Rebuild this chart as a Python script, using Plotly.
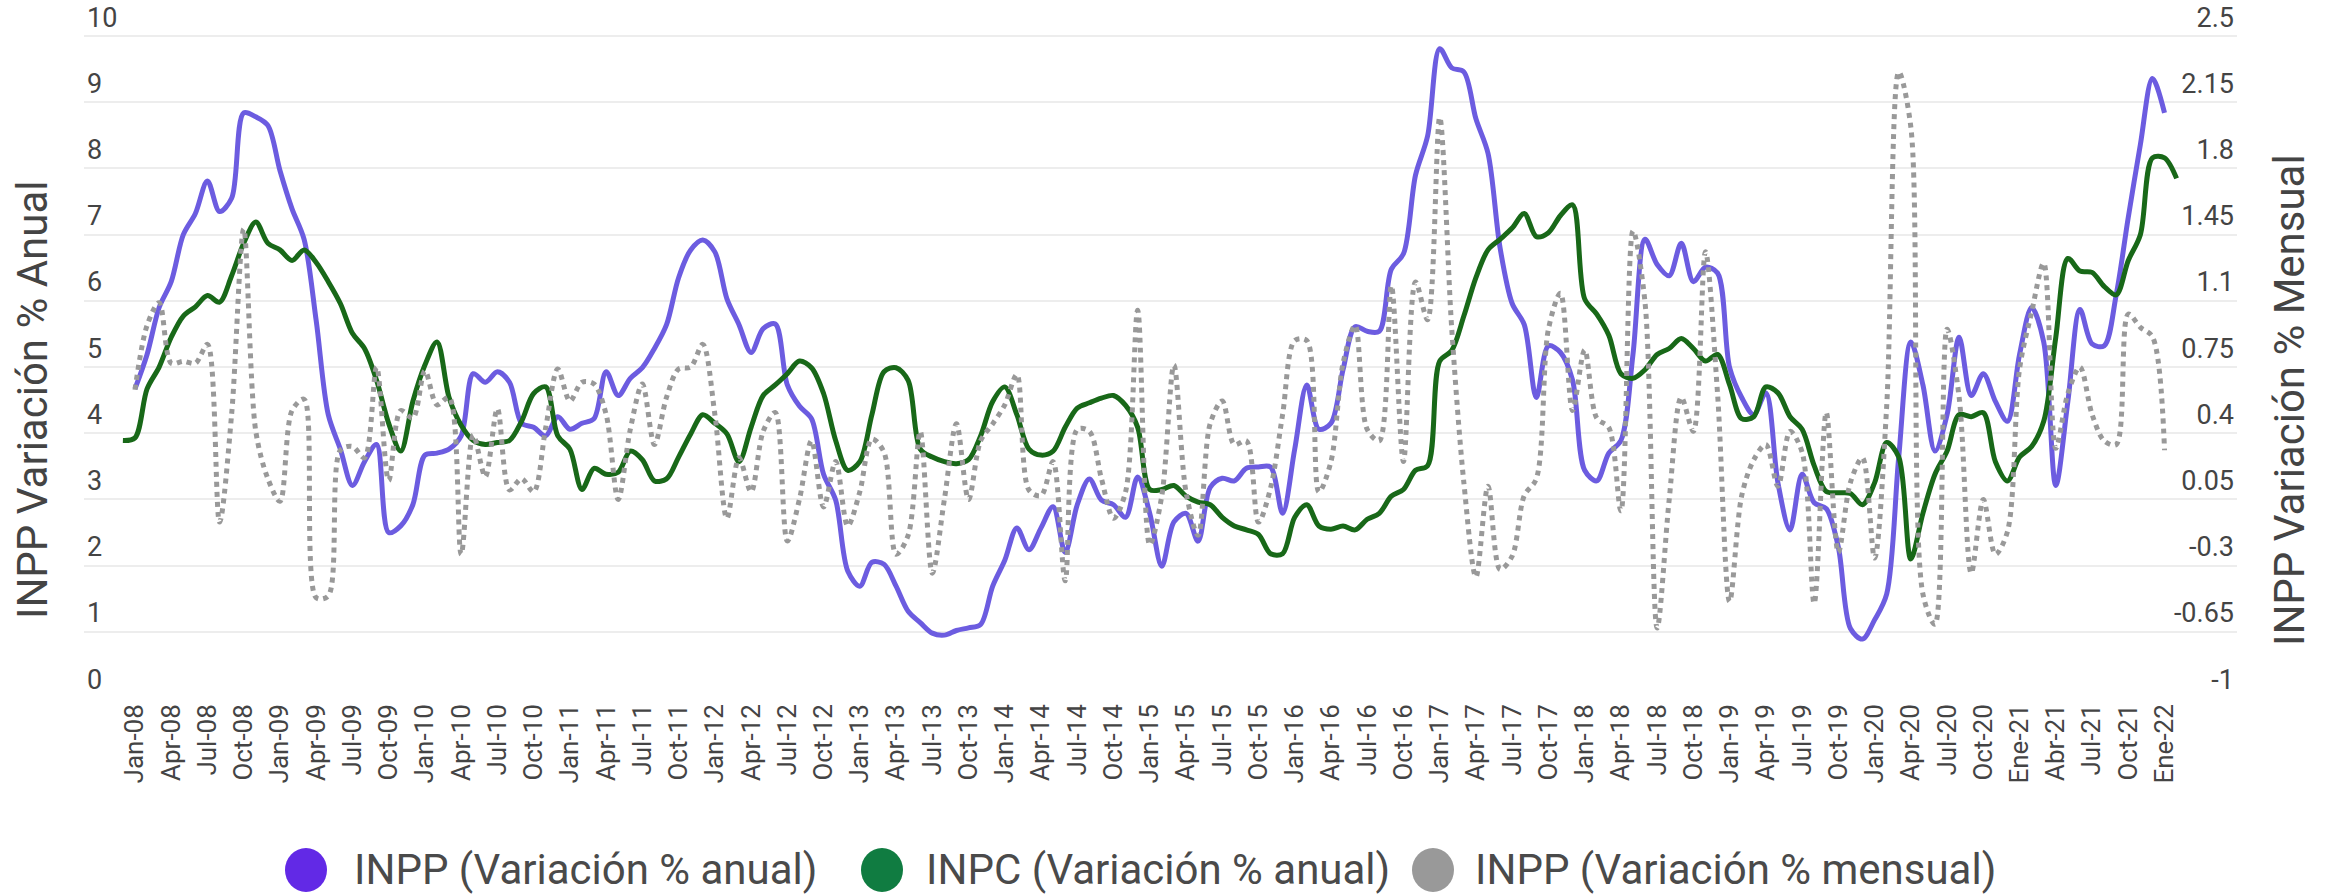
import plotly.graph_objects as go

# ---------------- data ----------------
# month index 0 = Jan-08
inpp_anual = [
    4.67, 5.19, 5.9, 6.29, 7.0, 7.32, 7.81, 7.35, 7.55, 8.84, 8.78, 8.65,
    7.97, 7.39, 6.93, 5.7, 4.28, 3.76, 3.21, 3.57, 3.83, 2.5, 2.6, 2.92,
    3.67, 3.7, 3.76, 3.96, 4.9, 4.77, 4.93, 4.77, 4.15, 4.09, 3.96, 4.25,
    4.06, 4.15, 4.22, 4.93, 4.57, 4.83, 4.99, 5.28, 5.64, 6.35, 6.77, 6.92,
    6.74, 6.03, 5.64, 5.22, 5.58, 5.65, 4.73, 4.41, 4.22, 3.38, 2.99, 1.92,
    1.69, 2.05, 2.02, 1.69, 1.31, 1.14, 0.98, 0.95, 1.02, 1.06, 1.11, 1.69,
    2.08, 2.57, 2.24, 2.57, 2.89, 2.2, 2.92, 3.31, 2.99, 2.92, 2.73, 3.34,
    2.79, 1.99, 2.66, 2.79, 2.37, 3.18, 3.32, 3.28, 3.47, 3.49, 3.49, 2.79,
    3.76, 4.73, 4.06, 4.15, 4.96, 5.61, 5.54, 5.54, 6.48, 6.71, 7.9, 8.49,
    9.81, 9.52, 9.46, 8.75, 8.23, 6.8, 5.96, 5.64, 4.54, 5.32, 5.22, 4.8,
    3.44, 3.28, 3.7, 3.89, 5.19, 6.93, 6.55, 6.38, 6.87, 6.29, 6.51, 6.42,
    4.99, 4.54, 4.28, 4.61, 3.25, 2.54, 3.38, 2.95, 2.86, 2.28, 1.05, 0.89,
    1.18, 1.57, 3.64, 5.38, 4.73, 3.73, 4.28, 5.45, 4.57, 4.9, 4.48, 4.18,
    5.19, 5.9, 5.38, 3.21, 4.48, 5.87, 5.35, 5.32, 6.09, 7.26, 8.36, 9.36,
    8.84,
]

# month index -1 = Dec-07 ... 169 = Feb-22
inpc_anual = [
    3.89,
    3.93, 4.67, 5.0, 5.45, 5.77, 5.91, 6.08, 5.98, 6.38, 6.87, 7.19, 6.87,
    6.77, 6.61, 6.77, 6.58, 6.29, 5.96, 5.51, 5.28, 4.8, 4.15, 3.73, 4.48,
    5.03, 5.38, 4.54, 4.12, 3.89, 3.83, 3.86, 3.89, 4.18, 4.6, 4.7, 3.96,
    3.76, 3.15, 3.47, 3.38, 3.41, 3.73, 3.6, 3.28, 3.31, 3.64, 3.99, 4.28,
    4.15, 3.99, 3.57, 4.09, 4.57, 4.73, 4.9, 5.09, 4.99, 4.6, 3.89, 3.44,
    3.57, 4.28, 4.93, 4.99, 4.8, 3.76, 3.64, 3.57, 3.54, 3.6, 3.96, 4.48,
    4.7, 4.28, 3.76, 3.67, 3.73, 4.09, 4.38, 4.46, 4.53, 4.57, 4.42, 4.09,
    3.15, 3.15, 3.21, 3.05, 2.96, 2.92, 2.73, 2.6, 2.54, 2.47, 2.18, 2.18,
    2.73, 2.92, 2.6, 2.55, 2.6, 2.54, 2.7, 2.79, 3.05, 3.15, 3.44, 3.51,
    5.09, 5.25, 5.77, 6.35, 6.77, 6.93, 7.1, 7.32, 6.97, 7.03, 7.29, 7.45,
    6.03, 5.8, 5.48, 4.9, 4.83, 4.96, 5.19, 5.28, 5.43, 5.28, 5.09, 5.19,
    4.73, 4.22, 4.25, 4.7, 4.61, 4.25, 4.06, 3.51, 3.12, 3.1, 3.09, 2.92,
    3.25, 3.86, 3.64, 2.1, 2.79, 3.38, 3.73, 4.28, 4.25, 4.31, 3.57, 3.28,
    3.64, 3.8, 4.18, 5.45, 6.64, 6.45, 6.43, 6.22, 6.09, 6.61, 7.0, 8.16,
    8.16, 7.85,
]

# month index 0 = Jan-08 (right axis)
inpp_mensual = [
    0.63, 0.97, 1.09, 0.77, 0.78, 0.77, 0.87, -0.07, 0.50, 1.48, 0.41, 0.16,
    0.04, 0.52, 0.58, -0.47, -0.46, 0.31, 0.33, 0.27, 0.75, 0.15, 0.52, 0.48,
    0.73, 0.55, 0.59, -0.24, 0.39, 0.17, 0.53, 0.10, 0.16, 0.09, 0.43, 0.74,
    0.57, 0.67, 0.66, 0.50, 0.05, 0.42, 0.66, 0.34, 0.59, 0.74, 0.75, 0.87,
    0.50, -0.05, 0.27, 0.09, 0.41, 0.51, -0.17, 0.05, 0.36, 0.01, 0.25, -0.09,
    0.09, 0.37, 0.30, -0.24, -0.14, 0.41, -0.34, 0.05, 0.45, 0.05, 0.36, 0.45,
    0.55, 0.71, 0.10, 0.07, 0.25, -0.38, 0.42, 0.41, 0.16, -0.05, 0.09, 1.05,
    -0.19, 0.07, 0.76, 0.09, -0.14, 0.45, 0.57, 0.34, 0.36, -0.07, 0.11, 0.50,
    0.89, 0.89, 0.09, 0.25, 0.77, 0.97, 0.42, 0.36, 1.18, 0.25, 1.20, 1.0,
    2.07, 0.95, 0.14, -0.36, 0.12, -0.32, -0.25, 0.07, 0.16, 0.95, 1.14, 0.52,
    0.84, 0.48, 0.43, -0.01, 1.47, 1.09, -0.63, 0.05, 0.59, 0.41, 1.36, 0.61,
    -0.49, 0.07, 0.26, 0.34, 0.12, 0.41, 0.30, -0.50, 0.51, -0.23, 0.14, 0.27,
    -0.26, 0.54, 2.31, 2.02, -0.45, -0.61, 0.95, 0.59, -0.34, 0.05, -0.24, -0.12,
    0.74, 1.04, 1.30, 0.32, 0.61, 0.75, 0.50, 0.36, 0.34, 1.03, 0.96, 0.91,
    0.31,
]

tick_labels = [
    "Jan-08", "Apr-08", "Jul-08", "Oct-08", "Jan-09", "Apr-09", "Jul-09", "Oct-09",
    "Jan-10", "Apr-10", "Jul-10", "Oct-10", "Jan-11", "Apr-11", "Jul-11", "Oct-11",
    "Jan-12", "Apr-12", "Jul-12", "Oct-12", "Jan-13", "Apr-13", "Jul-13", "Oct-13",
    "Jan-14", "Apr-14", "Jul-14", "Oct-14", "Jan-15", "Apr-15", "Jul-15", "Oct-15",
    "Jan-16", "Apr-16", "Jul-16", "Oct-16", "Jan-17", "Apr-17", "Jul-17", "Oct-17",
    "Jan-18", "Apr-18", "Jul-18", "Oct-18", "Jan-19", "Apr-19", "Jul-19", "Oct-19",
    "Jan-20", "Apr-20", "Jul-20", "Oct-20", "Ene-21", "Abr-21", "Jul-21", "Oct-21",
    "Ene-22",
]
left_ticks = [0, 1, 2, 3, 4, 5, 6, 7, 8, 9, 10]
right_ticks = [-1, -0.65, -0.3, 0.05, 0.4, 0.75, 1.1, 1.45, 1.8, 2.15, 2.5]

series_names = ["INPP (Variación % anual)", "INPC (Variación % anual)",
                "INPP (Variación % mensual)"]
legend_colors = ["#6229e6", "#107c41", "#999999"]

# ---------------- figure ----------------
W, H = 2330, 896
L, R, B = 84, 93, 198
GRID_TOP = 36            # pixel row of the top gridline (10 / 2.5)
EXTRA = 0.5              # extra headroom (left-axis units) so top tick labels fit inside
unit = (H - B - GRID_TOP) / 10.0
T = GRID_TOP - EXTRA * unit
pw, ph = W - L - R, H - T - B

def px_x(p):
    return (p - L) / pw

def px_y(p):
    return (H - B - p) / ph

FONT = "Roboto"
TXT = "#444444"

x_inpp = list(range(len(inpp_anual)))
x_inpc = list(range(-1, len(inpc_anual) - 1))
x_mens = list(range(len(inpp_mensual)))

fig = go.Figure()
fig.add_trace(go.Scatter(x=x_inpp, y=inpp_anual, name=series_names[0], mode="lines",
                         line=dict(color="#6c5ce0", width=5, shape="spline", smoothing=0.9),
                         yaxis="y"))
fig.add_trace(go.Scatter(x=x_inpc, y=inpc_anual, name=series_names[1], mode="lines",
                         line=dict(color="#186818", width=5, shape="spline", smoothing=0.9),
                         yaxis="y"))
fig.add_trace(go.Scatter(x=x_mens, y=inpp_mensual, name=series_names[2], mode="lines",
                         line=dict(color="#999999", width=5, dash="dot", shape="spline",
                                   smoothing=0.9),
                         yaxis="y2"))

annotations = [
    dict(text="INPP Variación % Anual", x=px_x(32), y=px_y(400), xref="paper", yref="paper",
         textangle=-90, showarrow=False, xanchor="center", yanchor="middle",
         font=dict(family=FONT, size=42, color=TXT)),
    dict(text="INPP Variación % Mensual", x=px_x(2289), y=px_y(400), xref="paper", yref="paper",
         textangle=-90, showarrow=False, xanchor="center", yanchor="middle",
         font=dict(family=FONT, size=42, color=TXT)),
]
shapes = []
legend_circle_x = [306, 882, 1433]
legend_text_x = [352, 924, 1473]
legend_y = 870
for name, col, cx, tx in zip(series_names, legend_colors, legend_circle_x, legend_text_x):
    shapes.append(dict(type="circle", xref="paper", yref="paper",
                       xsizemode="pixel", ysizemode="pixel",
                       xanchor=px_x(cx), yanchor=px_y(legend_y),
                       x0=-21, x1=21, y0=-22, y1=22,
                       fillcolor=col, line=dict(width=0)))
    annotations.append(dict(text=name, x=px_x(tx), y=px_y(legend_y), xref="paper", yref="paper",
                            showarrow=False, xanchor="left", yanchor="middle",
                            font=dict(family=FONT, size=42, color="#4a4a4a")))

fig.update_layout(
    width=W, height=H,
    margin=dict(l=L, r=R, t=T, b=B, pad=0),
    paper_bgcolor="white", plot_bgcolor="white",
    showlegend=False,
    font=dict(family=FONT, color=TXT),
    xaxis=dict(range=[-4.22, 174.0], tickmode="array",
               tickvals=[3 * i for i in range(len(tick_labels))], ticktext=tick_labels,
               tickangle=-90, tickfont=dict(family=FONT, size=26, color=TXT),
               showgrid=False, zeroline=False, showline=False, ticks=""),
    yaxis=dict(range=[0, 10 + EXTRA], tickmode="array", tickvals=left_ticks,
               ticktext=[str(v) for v in left_ticks],
               ticklabelposition="inside top", ticklabeloverflow="allow",
               tickfont=dict(family=FONT, size=27, color=TXT),
               showgrid=True, gridcolor="#ededed", gridwidth=2,
               zeroline=False, showline=False, ticks=""),
    yaxis2=dict(range=[-1, 2.5 + EXTRA * 0.35], overlaying="y", side="right", tickmode="array",
                tickvals=right_ticks, ticktext=[f"{v:g}" for v in right_ticks],
                ticklabelposition="inside top", ticklabeloverflow="allow",
                tickfont=dict(family=FONT, size=27, color=TXT),
                showgrid=False, zeroline=False, showline=False, ticks=""),
    annotations=annotations,
    shapes=shapes,
)

fig.write_html("out.html", include_plotlyjs=True, config={"displayModeBar": False},
               post_script="document.body.style.margin='0';document.body.style.overflow='hidden';")
